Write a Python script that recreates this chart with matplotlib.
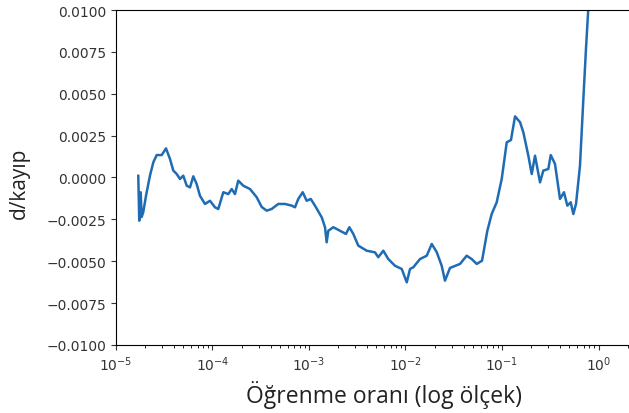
import numpy as np
import matplotlib
matplotlib.use("Agg")
import matplotlib.pyplot as plt

# learning rate exponents (log10) and loss derivative
lr_exp = [-4.769, -4.759, -4.744, -4.734, -4.717, -4.689, -4.648, -4.613, -4.578, -4.526,
          -4.482, -4.440, -4.406, -4.371, -4.337, -4.303, -4.267, -4.233, -4.199, -4.164,
          -4.130, -4.078, -4.026, -3.974, -3.940, -3.888, -3.836, -3.801, -3.767, -3.733,
          -3.681, -3.611, -3.542, -3.490, -3.438, -3.387, -3.318, -3.249, -3.179, -3.145,
          -3.111, -3.065, -3.024, -2.982, -2.938, -2.868, -2.834, -2.817, -2.800, -2.748,
          -2.679, -2.617, -2.582, -2.541, -2.489, -2.402, -2.316, -2.282, -2.230, -2.178,
          -2.109, -2.039, -1.987, -1.953, -1.919, -1.850, -1.780, -1.728, -1.677, -1.625,
          -1.591, -1.539, -1.435, -1.366, -1.314, -1.262, -1.207, -1.152, -1.107, -1.055,
          -1.003, -0.951, -0.907, -0.865, -0.813, -0.779, -0.727, -0.692, -0.658, -0.606,
          -0.572, -0.520, -0.495, -0.451, -0.399, -0.358, -0.323, -0.288, -0.261, -0.233,
          -0.192, -0.157, -0.130, -0.106, -0.090]
d_loss = [0.00010, -0.00258, -0.00088, -0.00236, -0.00206, -0.00109, 0.00011, 0.00091, 0.00134, 0.00134,
          0.00174, 0.00110, 0.00041, 0.00021, -0.00009, 0.00011, -0.00049, -0.00059, 0.00007, -0.00039,
          -0.00109, -0.00158, -0.00139, -0.00178, -0.00188, -0.00088, -0.00099, -0.00069, -0.00099, -0.00019,
          -0.00049, -0.00069, -0.00118, -0.00176, -0.00198, -0.00188, -0.00158, -0.00158, -0.00168, -0.00178,
          -0.00128, -0.00088, -0.00139, -0.00128, -0.00168, -0.00238, -0.00297, -0.00387, -0.00318, -0.00297,
          -0.00318, -0.00337, -0.00297, -0.00337, -0.00407, -0.00437, -0.00447, -0.00476, -0.00437, -0.00487,
          -0.00527, -0.00546, -0.00626, -0.00546, -0.00536, -0.00487, -0.00467, -0.00397, -0.00445, -0.00527,
          -0.00616, -0.00540, -0.00516, -0.00467, -0.00487, -0.00516, -0.00497, -0.00318, -0.00218, -0.00148,
          -0.00009, 0.00210, 0.00224, 0.00365, 0.00330, 0.00270, 0.00130, 0.00021, 0.00130, -0.00029,
          0.00041, 0.00051, 0.00134, 0.00081, -0.00128, -0.00088, -0.00168, -0.00148, -0.00218, -0.00158,
          0.00070, 0.00469, 0.00767, 0.01006, 0.01250]

y_ticks = [-0.01, -0.0075, -0.005, -0.0025, 0.0, 0.0025, 0.005, 0.0075, 0.01]

lr = 10 ** np.array(lr_exp)

fig = plt.figure(figsize=(6.29, 4.14), dpi=100)
ax = fig.add_axes([0.1844, 0.1643, 0.8156, 0.8091])

ax.plot(lr, d_loss, color="#1f6cb5", linewidth=1.8)

ax.set_xscale("log")
ax.set_xlim(1e-5, 2.07)
ax.set_ylim(-0.01, 0.01)
ax.set_yticks(y_ticks)
ax.set_yticklabels([f"{v:.4f}".replace("-", "\u2212") for v in y_ticks])
ax.spines["right"].set_visible(False)
ax.tick_params(labelsize=10, colors="#333333")

ax.set_xlabel("Öğrenme oranı (log ölçek)", fontsize=16.5, family="Open Sans", color="#222222")
ax.set_ylabel("d/kayıp", fontsize=15, family="Open Sans", color="#222222")
ax.xaxis.set_label_coords(0.522, -0.105)
ax.yaxis.set_label_coords(-0.168, 0.485)

fig.savefig("out.png", dpi=100)
